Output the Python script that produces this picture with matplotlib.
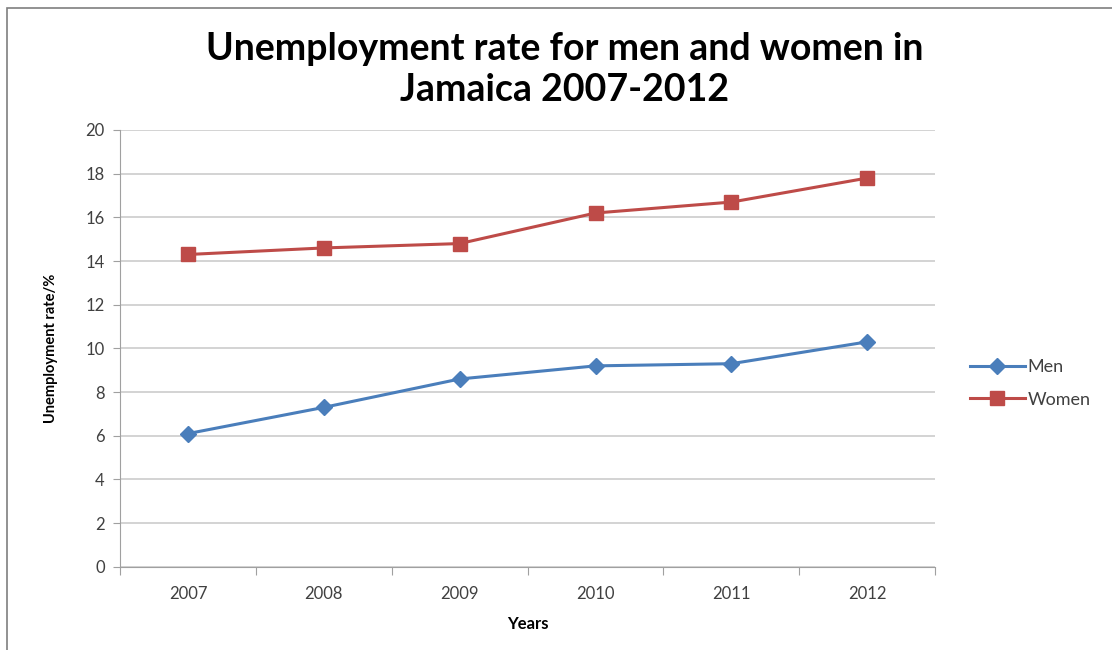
import matplotlib.pyplot as plt
from matplotlib.patches import Rectangle

years = ["2007", "2008", "2009", "2010", "2011", "2012"]
men = [6.1, 7.3, 8.6, 9.2, 9.3, 10.3]
women = [14.3, 14.6, 14.8, 16.2, 16.7, 17.8]
y_ticks = [0, 2, 4, 6, 8, 10, 12, 14, 16, 18, 20]

plt.rcParams['font.family'] = ['Lato', 'DejaVu Sans']

fig = plt.figure(figsize=(11.12, 6.5), dpi=100)
ax = fig.add_axes([0.108, 0.128, 0.733, 0.672])

# outer chart frame
fig.patches.append(Rectangle((0.006, -0.01), 1.0, 0.998, transform=fig.transFigure,
                             fill=False, edgecolor='#7f7f7f', linewidth=1.2))

x = range(len(years))
ax.plot(x, men, color='#4a7ebb', linewidth=2.2, marker='D', markersize=8,
        markerfacecolor='#4a7ebb', markeredgecolor='#4a7ebb', label='Men')
ax.plot(x, women, color='#be4b48', linewidth=2.2, marker='s', markersize=10,
        markerfacecolor='#be4b48', markeredgecolor='#be4b48', label='Women')

ax.set_xlim(-0.5, len(years) - 0.5)
ax.set_ylim(0, 20)
ax.set_yticks(y_ticks)
ax.set_yticklabels([str(v) for v in y_ticks], fontsize=12, color='#404040')

# category axis: tick marks between categories, labels centred
ax.set_xticks([i - 0.5 for i in range(len(years) + 1)])
ax.set_xticklabels([])
ax.set_xticks(list(x), minor=True)
ax.set_xticklabels(years, minor=True, fontsize=12, color='#404040')
ax.tick_params(axis='x', which='major', length=6, color='#a0a0a0', direction='out')
ax.tick_params(axis='x', which='minor', length=0, pad=14)
ax.tick_params(axis='y', length=5, color='#a0a0a0', pad=6)

ax.grid(axis='y', color='#d0d0d0', linewidth=1.3)
ax.set_axisbelow(True)
for side in ['top', 'right']:
    ax.spines[side].set_visible(False)
ax.spines['left'].set_color('#a0a0a0')
ax.spines['bottom'].set_color('#a0a0a0')

ax.set_xlabel('Years', fontsize=12, fontweight='bold', labelpad=10)
ax.set_ylabel('Unemployment rate/%', fontsize=10.5, fontweight='bold', labelpad=20)

fig.text(0.508, 0.893, 'Unemployment rate for men and women in\nJamaica 2007-2012',
         ha='center', va='center', fontsize=27, fontweight='bold',
         linespacing=1.28)

fig.legend(loc='center left', bbox_to_anchor=(0.858, 0.41), frameon=False,
           fontsize=13, handlelength=3.0, handletextpad=0.15, labelspacing=0.9,
           labelcolor='#404040')

fig.savefig('out.png', dpi=100)
